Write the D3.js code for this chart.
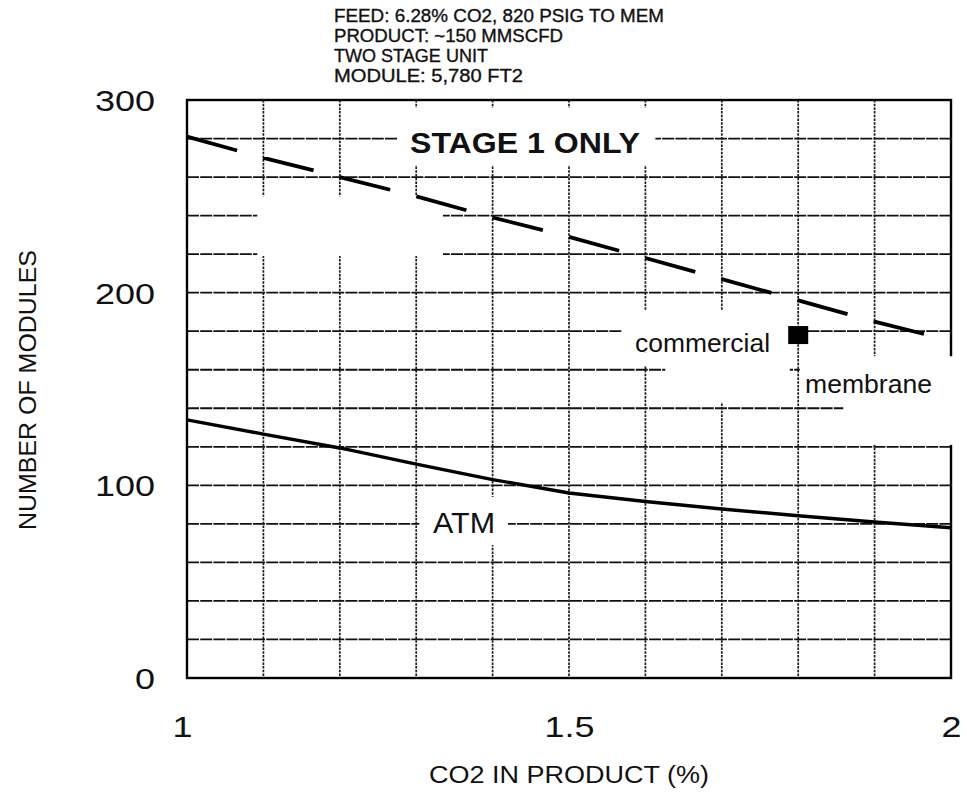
<!DOCTYPE html>
<html>
<head>
<meta charset="utf-8">
<script src="https://cdn.jsdelivr.net/npm/d3@7"></script>
<style>
  html, body { margin: 0; padding: 0; background: #fff; }
  svg { display: block; }
  text { font-family: "Liberation Sans", Arial, Helvetica, sans-serif; fill: #111; }
</style>
</head>
<body>
<svg id="chart" width="967" height="792"></svg>
<script>
// CO2 content of the product gas (%)
const co2 = [1.0, 1.1, 1.2, 1.3, 1.4, 1.5, 1.6, 1.7, 1.8, 1.9, 2.0];
// Number of modules required
const stage1Only = [281, 270, 260, 250, 239, 229, 218, 207, 196, 185, 175];
const atm        = [134, 126.6, 119.4, 111, 103, 96, 91.6, 87.7, 84.2, 81, 78];
// Commercial membrane operating point
const commercialCo2 = [1.8];
const commercialModules = [178];

const xTickValues = [1, 1.5, 2];
const yTickValues = [0, 100, 200, 300];
const notes = [
  "FEED:  6.28% CO2, 820 PSIG TO MEM",
  "PRODUCT:  ~150 MMSCFD",
  "TWO STAGE UNIT",
  "MODULE:  5,780  FT2"
];

const svg = d3.select("#chart");
const plot = { left: 187, right: 951, top: 100, bottom: 678 };

const x = d3.scaleLinear().domain([1, 2]).range([plot.left, plot.right]);
const y = d3.scaleLinear().domain([0, 300]).range([plot.bottom, plot.top]);

// Header notes
const noteWidths = [330, 229, 154, 189];
svg.append("g").selectAll("text").data(notes).join("text")
  .attr("x", 334)
  .attr("y", (d, i) => 22 + i * 20)
  .attr("font-size", 18)
  .attr("stroke", "#111").attr("stroke-width", 0.35)
  .attr("textLength", (d, i) => noteWidths[i])
  .attr("lengthAdjust", "spacingAndGlyphs")
  .text(d => d);

// Grid
const grid = svg.append("g");
grid.selectAll("line.h").data(y.ticks(15).filter(v => v > 0 && v < 300)).join("line")
  .attr("class", "h")
  .attr("x1", plot.left).attr("x2", plot.right)
  .attr("y1", d => y(d)).attr("y2", d => y(d))
  .attr("stroke", "#111").attr("stroke-width", 1.8)
  .attr("stroke-dasharray", "12,1.2");
grid.selectAll("line.v").data(x.ticks(10).filter(v => v > 1 && v < 2)).join("line")
  .attr("class", "v")
  .attr("x1", d => x(d)).attr("x2", d => x(d))
  .attr("y1", plot.top).attr("y2", plot.bottom)
  .attr("stroke", "#1a1a1a").attr("stroke-width", 1.7)
  .attr("stroke-dasharray", "2.5,1.2");

// Frame
svg.append("rect")
  .attr("x", plot.left).attr("y", plot.top)
  .attr("width", plot.right - plot.left).attr("height", plot.bottom - plot.top)
  .attr("fill", "none").attr("stroke", "#000").attr("stroke-width", 2.4);

// Blank areas in the grid behind the annotations (data units)
const clearings = [
  [1.092, 1.335, 219, 250],
  [1.276, 1.613, 266, 296],
  [1.569, 1.789, 169, 191],
  [1.626, 1.789, 143, 170],
  [1.580, 1.626, 162, 169],
  [1.802, 2.015, 144, 167],
  [1.859, 2.015, 121, 144.3],
  [1.304, 1.420, 69, 94]
];
svg.append("g").selectAll("rect").data(clearings).join("rect")
  .attr("x", d => x(d[0])).attr("width", d => x(d[1]) - x(d[0]))
  .attr("y", d => y(d[3])).attr("height", d => y(d[2]) - y(d[3]))
  .attr("fill", "#fff");

// Curves
const line = d3.line().x(d => x(d[0])).y(d => y(d[1]));
svg.append("path")
  .datum(d3.zip(co2, stage1Only))
  .attr("d", line)
  .attr("fill", "none").attr("stroke", "#000").attr("stroke-width", 3.8)
  .attr("stroke-dasharray", "52,27");
svg.append("path")
  .datum(d3.zip(co2, atm))
  .attr("d", line)
  .attr("fill", "none").attr("stroke", "#000").attr("stroke-width", 3.4);

// Commercial membrane point
svg.append("g").selectAll("rect").data(d3.zip(commercialCo2, commercialModules)).join("rect")
  .attr("x", d => x(d[0]) - 10).attr("y", d => y(d[1]) - 9)
  .attr("width", 20).attr("height", 18)
  .attr("fill", "#000");

// Annotations
const labels = [
  { t: "STAGE 1 ONLY", x: 410, y: 153, s: 29, w: 230, fw: "bold" },
  { t: "commercial", x: 635, y: 352, s: 25, w: 135, fw: "normal" },
  { t: "membrane", x: 805, y: 393, s: 25, w: 127, fw: "normal" },
  { t: "ATM", x: 433, y: 533, s: 29, w: 62, fw: "normal" }
];
svg.append("g").selectAll("text").data(labels).join("text")
  .attr("x", d => d.x).attr("y", d => d.y)
  .attr("font-size", d => d.s).attr("font-weight", d => d.fw)
  .attr("textLength", d => d.w).attr("lengthAdjust", "spacingAndGlyphs")
  .text(d => d.t);

// Axes (tick labels only)
const labelWidth = s => s.split("").reduce((w, c) => w + (c === "." ? 10 : 20), 0);

const yAxis = d3.axisLeft(y).tickValues(yTickValues).tickSize(0).tickPadding(0).tickFormat(d3.format("d"));
const gy = svg.append("g").attr("transform", `translate(${plot.left - 32},0)`).call(yAxis);
gy.select(".domain").remove();
gy.selectAll("text")
  .attr("font-size", 29).attr("dy", "0.36em")
  .attr("font-family", "Liberation Sans, Arial, sans-serif")
  .attr("fill", "#111")
  .attr("textLength", d => labelWidth(String(d)))
  .attr("lengthAdjust", "spacingAndGlyphs");

const xAxis = d3.axisBottom(x).tickValues(xTickValues).tickSize(0).tickPadding(0).tickFormat(d3.format("~g"));
const gx = svg.append("g").attr("transform", `translate(0,${plot.bottom + 38})`).call(xAxis);
gx.select(".domain").remove();
gx.selectAll("text")
  .attr("font-size", 29).attr("dy", "0.71em")
  .attr("font-family", "Liberation Sans, Arial, sans-serif")
  .attr("fill", "#111")
  .attr("textLength", d => labelWidth(d3.format("~g")(d)))
  .attr("lengthAdjust", "spacingAndGlyphs");
gx.selectAll(".tick").filter(d => d === 1).select("text").attr("dx", -5);

// Axis titles
svg.append("text")
  .attr("x", x(1.5)).attr("y", 783)
  .attr("text-anchor", "middle").attr("font-size", 23)
  .attr("textLength", 280).attr("lengthAdjust", "spacingAndGlyphs")
  .text("CO2 IN PRODUCT (%)");
svg.append("text")
  .attr("transform", `translate(36,390) rotate(-90)`)
  .attr("text-anchor", "middle").attr("font-size", 23)
  .attr("textLength", 280).attr("lengthAdjust", "spacingAndGlyphs")
  .text("NUMBER OF MODULES");
</script>
</body>
</html>
